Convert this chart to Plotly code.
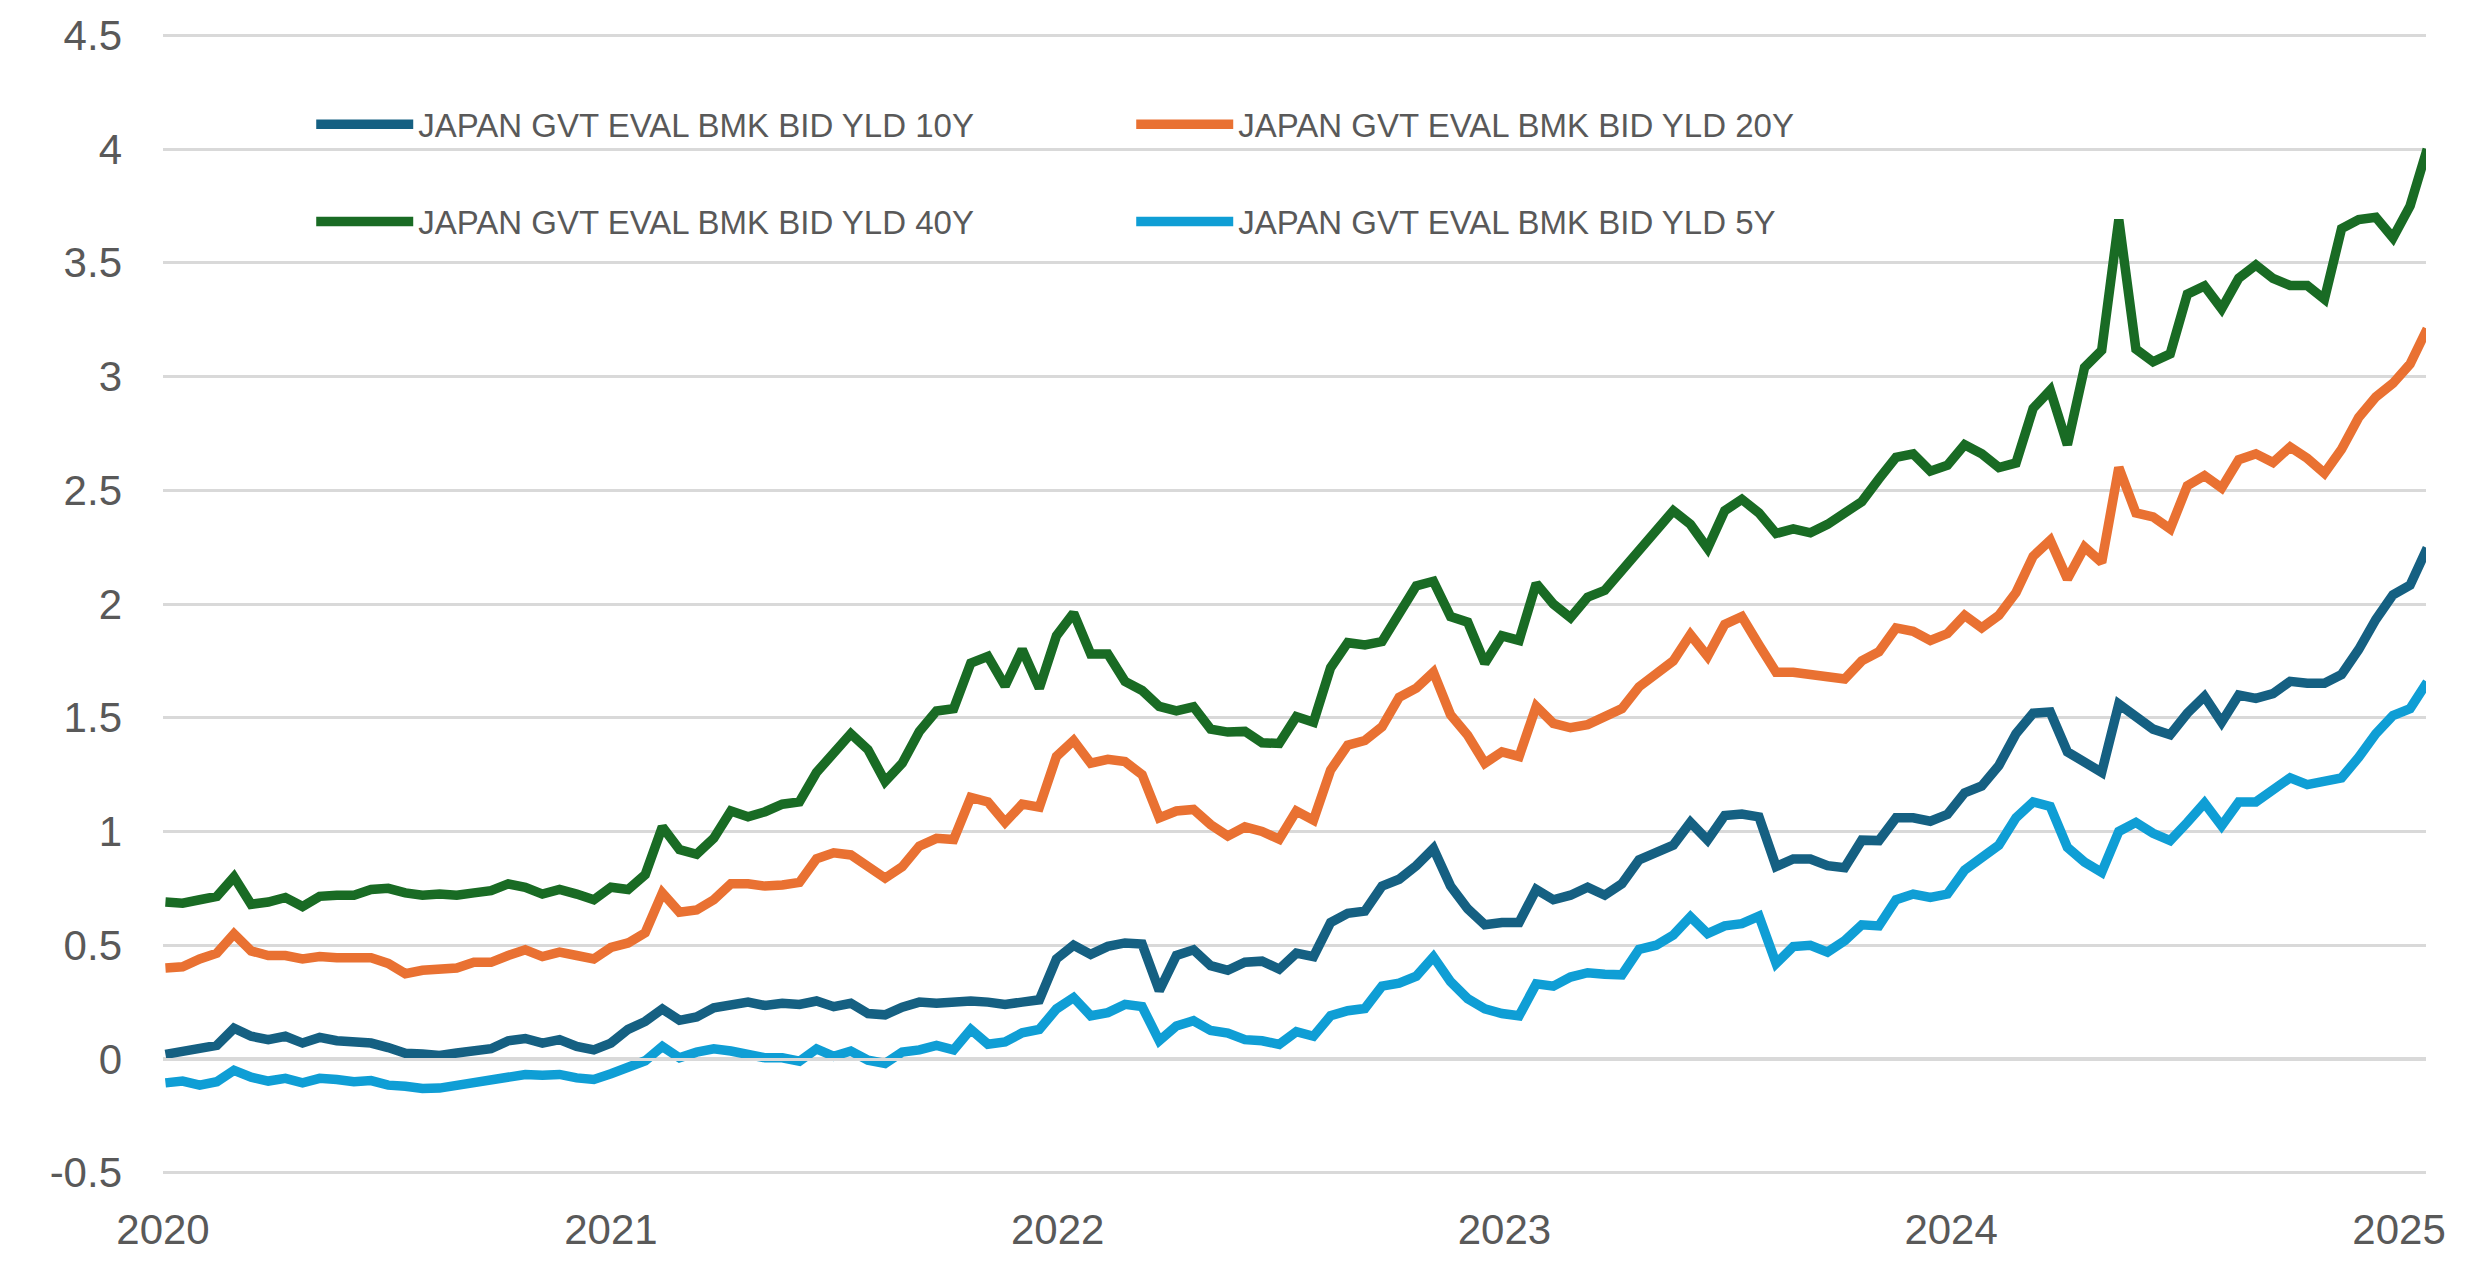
import pandas as pd
import plotly.graph_objects as go

# Bi-weekly observation dates (Fridays), Jan 2020 - Jan 2025
dates = pd.date_range("2020-01-03", periods=133, freq="14D")

yld_10y = [0.02, 0.033, 0.04, 0.06, 0.135, 0.10, 0.085, 0.10, 0.07, 0.095,
           0.08, 0.08, 0.07, 0.05, 0.025, 0.022, 0.015, 0.026, 0.04, 0.045,
           0.08, 0.09, 0.07, 0.085, 0.055, 0.04, 0.07, 0.13, 0.165, 0.22,
           0.17, 0.185, 0.225, 0.237, 0.25, 0.235, 0.245, 0.24, 0.255, 0.23,
           0.245, 0.20, 0.194, 0.228, 0.25, 0.245, 0.255, 0.255, 0.25, 0.24,
           0.25, 0.26, 0.44, 0.50, 0.46, 0.495, 0.51, 0.505, 0.30, 0.455,
           0.48, 0.41, 0.39, 0.425, 0.43, 0.395, 0.465, 0.45, 0.60, 0.64,
           0.65, 0.76, 0.79, 0.85, 0.925, 0.76, 0.66, 0.59, 0.60, 0.60,
           0.745, 0.70, 0.72, 0.755, 0.72, 0.77, 0.875, 0.91, 0.94, 1.04,
           0.962, 1.07, 1.077, 1.064, 0.846, 0.879, 0.879, 0.85, 0.841, 0.962,
           0.96, 1.06, 1.06, 1.045, 1.075, 1.17, 1.20, 1.29, 1.43, 1.52,
           1.525, 1.35, 1.30, 1.26, 1.56, 1.51, 1.45, 1.425, 1.52, 1.594,
           1.48, 1.60, 1.585, 1.606, 1.66, 1.652, 1.652, 1.69, 1.80, 1.932,
           2.04, 2.083, 2.246]

yld_20y = [0.40, 0.405, 0.44, 0.465, 0.55, 0.475, 0.455, 0.455, 0.44, 0.45,
           0.445, 0.45, 0.445, 0.42, 0.375, 0.39, 0.40, 0.40, 0.425, 0.425,
           0.455, 0.48, 0.45, 0.47, 0.455, 0.44, 0.49, 0.51, 0.555, 0.73,
           0.645, 0.655, 0.70, 0.77, 0.77, 0.76, 0.765, 0.776, 0.88, 0.906,
           0.897, 0.85, 0.795, 0.845, 0.936, 0.97, 0.965, 1.15, 1.13, 1.04,
           1.12, 1.107, 1.33, 1.40, 1.30, 1.317, 1.307, 1.25, 1.06, 1.09,
           1.097, 1.03, 0.98, 1.02, 1.00, 0.966, 1.09, 1.05, 1.27, 1.38,
           1.40, 1.46, 1.59, 1.63, 1.70, 1.513, 1.423, 1.30, 1.35, 1.33,
           1.55, 1.475, 1.456, 1.47, 1.50, 1.54, 1.636, 1.695, 1.75, 1.865,
           1.77, 1.91, 1.945, 1.82, 1.70, 1.70, 1.685, 1.68, 1.67, 1.75,
           1.79, 1.895, 1.88, 1.84, 1.87, 1.95, 1.895, 1.95, 2.05, 2.21,
           2.28, 2.11, 2.25, 2.183, 2.60, 2.40, 2.383, 2.33, 2.52, 2.564,
           2.51, 2.634, 2.66, 2.622, 2.69, 2.64, 2.575, 2.68, 2.82, 2.91,
           2.97, 3.055, 3.21]

yld_40y = [0.69, 0.685, 0.70, 0.715, 0.80, 0.68, 0.69, 0.71, 0.67, 0.715,
           0.72, 0.72, 0.745, 0.75, 0.73, 0.72, 0.725, 0.72, 0.73, 0.74,
           0.77, 0.755, 0.725, 0.745, 0.725, 0.70, 0.755, 0.745, 0.81, 1.02,
           0.92, 0.90, 0.97, 1.09, 1.065, 1.087, 1.12, 1.13, 1.26, 1.35,
           1.43, 1.36, 1.22, 1.30, 1.44, 1.53, 1.54, 1.74, 1.77, 1.64,
           1.80, 1.63, 1.86, 1.96, 1.78, 1.78, 1.66, 1.62, 1.55, 1.53,
           1.548, 1.45, 1.437, 1.44, 1.39, 1.387, 1.505, 1.48, 1.72, 1.83,
           1.82, 1.835, 1.96, 2.08, 2.10, 1.945, 1.92, 1.74, 1.86, 1.84,
           2.09, 2.00, 1.94, 2.03, 2.06, 2.15, 2.24, 2.33, 2.41, 2.35,
           2.245, 2.41, 2.46, 2.40, 2.31, 2.33, 2.313, 2.35, 2.40, 2.45,
           2.55, 2.645, 2.66, 2.584, 2.61, 2.70, 2.66, 2.60, 2.62, 2.86,
           2.94, 2.70, 3.04, 3.115, 3.69, 3.12, 3.065, 3.10, 3.362, 3.398,
           3.298, 3.432, 3.49, 3.431, 3.40, 3.40, 3.34, 3.65, 3.69, 3.70,
           3.61, 3.75, 4.0]

yld_5y = [-0.105, -0.097, -0.115, -0.10, -0.05, -0.08, -0.097, -0.085, -0.105, -0.085,
          -0.09, -0.10, -0.095, -0.115, -0.12, -0.13, -0.128, -0.115, -0.10, -0.095,
          -0.076, -0.068, -0.072, -0.068, -0.083, -0.09, -0.065, -0.035, -0.008, 0.055,
          0.005, 0.03, 0.045, 0.035, 0.02, 0.005, 0.005, -0.01, 0.044, 0.012,
          0.035, -0.005, -0.02, 0.03, 0.04, 0.06, 0.04, 0.13, 0.065, 0.075,
          0.115, 0.13, 0.22, 0.27, 0.19, 0.204, 0.24, 0.23, 0.08, 0.145,
          0.168, 0.125, 0.114, 0.085, 0.08, 0.064, 0.12, 0.10, 0.19, 0.212,
          0.222, 0.32, 0.333, 0.364, 0.449, 0.34, 0.265, 0.22, 0.20, 0.19,
          0.33, 0.32, 0.36, 0.379, 0.372, 0.37, 0.482, 0.50, 0.545, 0.625,
          0.551, 0.585, 0.595, 0.628, 0.42, 0.494, 0.50, 0.47, 0.52, 0.59,
          0.585, 0.70, 0.725, 0.71, 0.725, 0.83, 0.885, 0.94, 1.06, 1.13,
          1.11, 0.93, 0.865, 0.82, 1.00, 1.04, 0.992, 0.96, 1.04, 1.125,
          1.025, 1.13, 1.13, 1.18, 1.236, 1.206, 1.22, 1.236, 1.326, 1.43,
          1.51, 1.54, 1.657]

series_names = ["JAPAN GVT EVAL BMK BID YLD 10Y", "JAPAN GVT EVAL BMK BID YLD 20Y",
                "JAPAN GVT EVAL BMK BID YLD 40Y", "JAPAN GVT EVAL BMK BID YLD 5Y"]
series_values = [yld_10y, yld_20y, yld_40y, yld_5y]
series_colors = ["#156082", "#E97132", "#196B24", "#0F9ED5"]
series_legends = ["legend", "legend", "legend2", "legend2"]

year_ticks = ["2020-01-01", "2021-01-01", "2022-01-01", "2023-01-01", "2024-01-01", "2025-01-01"]
year_labels = ["2020", "2021", "2022", "2023", "2024", "2025"]
y_ticks = [-0.5, 0, 0.5, 1, 1.5, 2, 2.5, 3, 3.5, 4, 4.5]
y_labels = ["-0.5", "0", "0.5", "1", "1.5", "2", "2.5", "3", "3.5", "4", "4.5"]

GRID = "#d9d9d9"
TXT = "#595959"

fig = go.Figure()
for name, vals, col, lg in zip(series_names, series_values, series_colors, series_legends):
    fig.add_trace(go.Scatter(x=dates, y=vals, mode="lines", name=name,
                             line=dict(color=col, width=9.5), legend=lg))

# empty helper trace so the category axis drawn at y = 0 (with year tick marks) is rendered
fig.add_trace(go.Scatter(x=[], y=[], xaxis="x2", yaxis="y", showlegend=False,
                         hoverinfo="skip"))

# y range padded slightly so the -0.5 and 4.5 gridlines are drawn
fig.update_layout(
    width=2488, height=1270,
    margin=dict(l=163, r=62, t=23, b=95),
    paper_bgcolor="white", plot_bgcolor="white",
    font=dict(family="Liberation Sans, Arial, sans-serif", color=TXT),
    xaxis=dict(range=["2020-01-01", "2025-01-23"], tickvals=year_ticks, ticktext=year_labels,
               showgrid=False, zeroline=False, showline=False, ticks="",
               tickfont=dict(size=42, color=TXT), ticklabelstandoff=26),
    xaxis2=dict(overlaying="x", matches="x", anchor="free", position=0.1019, side="bottom",
                tickvals=year_ticks, showticklabels=False, showgrid=False, zeroline=False,
                showline=True, linecolor=GRID, linewidth=3,
                ticks="outside", ticklen=14, tickwidth=3, tickcolor=GRID),
    yaxis=dict(range=[-0.51, 4.51], tickvals=y_ticks, ticktext=y_labels,
               showgrid=True, gridcolor=GRID, gridwidth=3, zeroline=False, showline=False,
               tickfont=dict(size=42, color=TXT), ticklabelstandoff=40,
               ticklabeloverflow="allow"),
    legend=dict(orientation="h", x=0.0655, y=0.92, xanchor="left", yanchor="middle",
                entrywidth=708, entrywidthmode="pixels", itemwidth=97,
                font=dict(size=33, color=TXT), bgcolor="rgba(0,0,0,0)"),
    legend2=dict(orientation="h", x=0.0655, y=0.835, xanchor="left", yanchor="middle",
                 entrywidth=708, entrywidthmode="pixels", itemwidth=97,
                 font=dict(size=33, color=TXT), bgcolor="rgba(0,0,0,0)"),
)

fig.write_html("out.html", config={"displayModeBar": False},
               post_script="document.body.style.margin='0px';")
